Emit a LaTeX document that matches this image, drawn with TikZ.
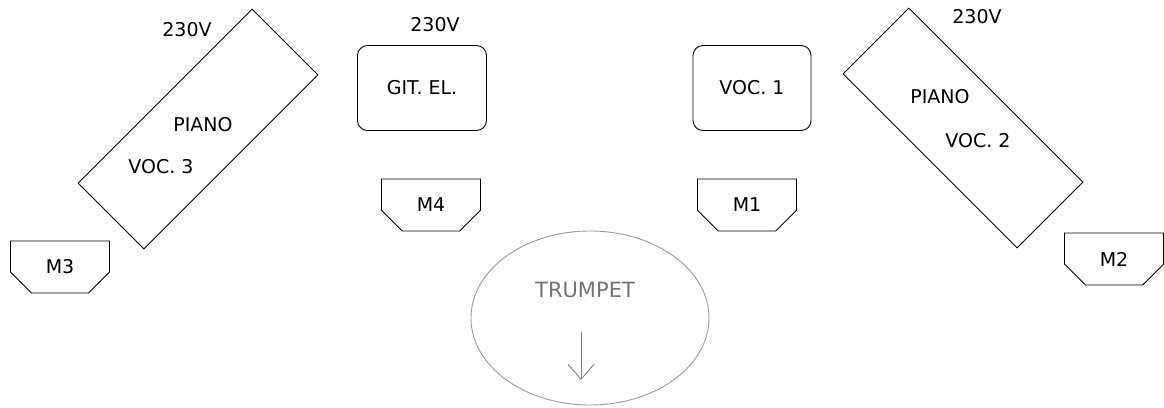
\documentclass[tikz,border=0pt]{standalone}
\usepackage{fontspec}
\setmainfont{DejaVu Sans}
\usetikzlibrary{shapes.geometric}
\usetikzlibrary{shapes.misc}
\usetikzlibrary{arrows.meta}

\begin{document}
\begin{tikzpicture}[x=1pt, y=-1pt, line width=0.9pt,
        every node/.style={font=\fontsize{19}{22}\selectfont},
        piano/.style={draw, minimum width=246pt, minimum height=93pt},
        amp/.style={draw, rounded corners=10pt, minimum height=85pt},
        monitor/.style={draw, chamfered rectangle, chamfered rectangle corners={south west,south east},
            chamfered rectangle sep=10.5pt, minimum width=99pt, minimum height=52pt}]
        \useasboundingbox (0,0) rectangle (1164,407);

        % keyboards
        \node[piano, rotate=45] (pianoL) at (198,129) {};
        \node[piano, rotate=-45] (pianoR) at (963,128) {};
        \node (pianoLtxt) at (203,125) {PIANO};
        \node (voc3) at (161,167) {VOC. 3};
        \node (pianoRtxt) at (940,97) {PIANO};
        \node (voc2) at (978,141) {VOC. 2};

        % amps
        \node[amp, minimum width=129pt] (git) at (422,88) {GIT. EL.};
        \node[amp, minimum width=118pt] (voc1) at (752,88) {VOC. 1};

        % power
        \node (powerL) at (187,30) {230V};
        \node (powerM) at (435,25) {230V};
        \node (powerR) at (977,17) {230V};

        % monitors
        \node[monitor] (m3) at (60,267) {M3};
        \node[monitor] (m4) at (431,205) {M4};
        \node[monitor] (m1) at (747,205) {M1};
        \node[monitor] (m2) at (1114,259) {M2};

        % trumpet
        \node[draw=black!40, ellipse, minimum width=238pt, minimum height=174pt] (trumpet) at (590,318) {};
        \node[text=black!55, font=\fontsize{21}{24}\selectfont] (trumptxt) at (585,290) {TRUMPET};
        \coordinate (dirtop) at (581,332);
        \coordinate (dirend) at (581,380);
        \draw[black!50, -{Straight Barb[length=15pt, width=26pt]}] (dirtop) -- (dirend);
    \end{tikzpicture}
\end{document}
